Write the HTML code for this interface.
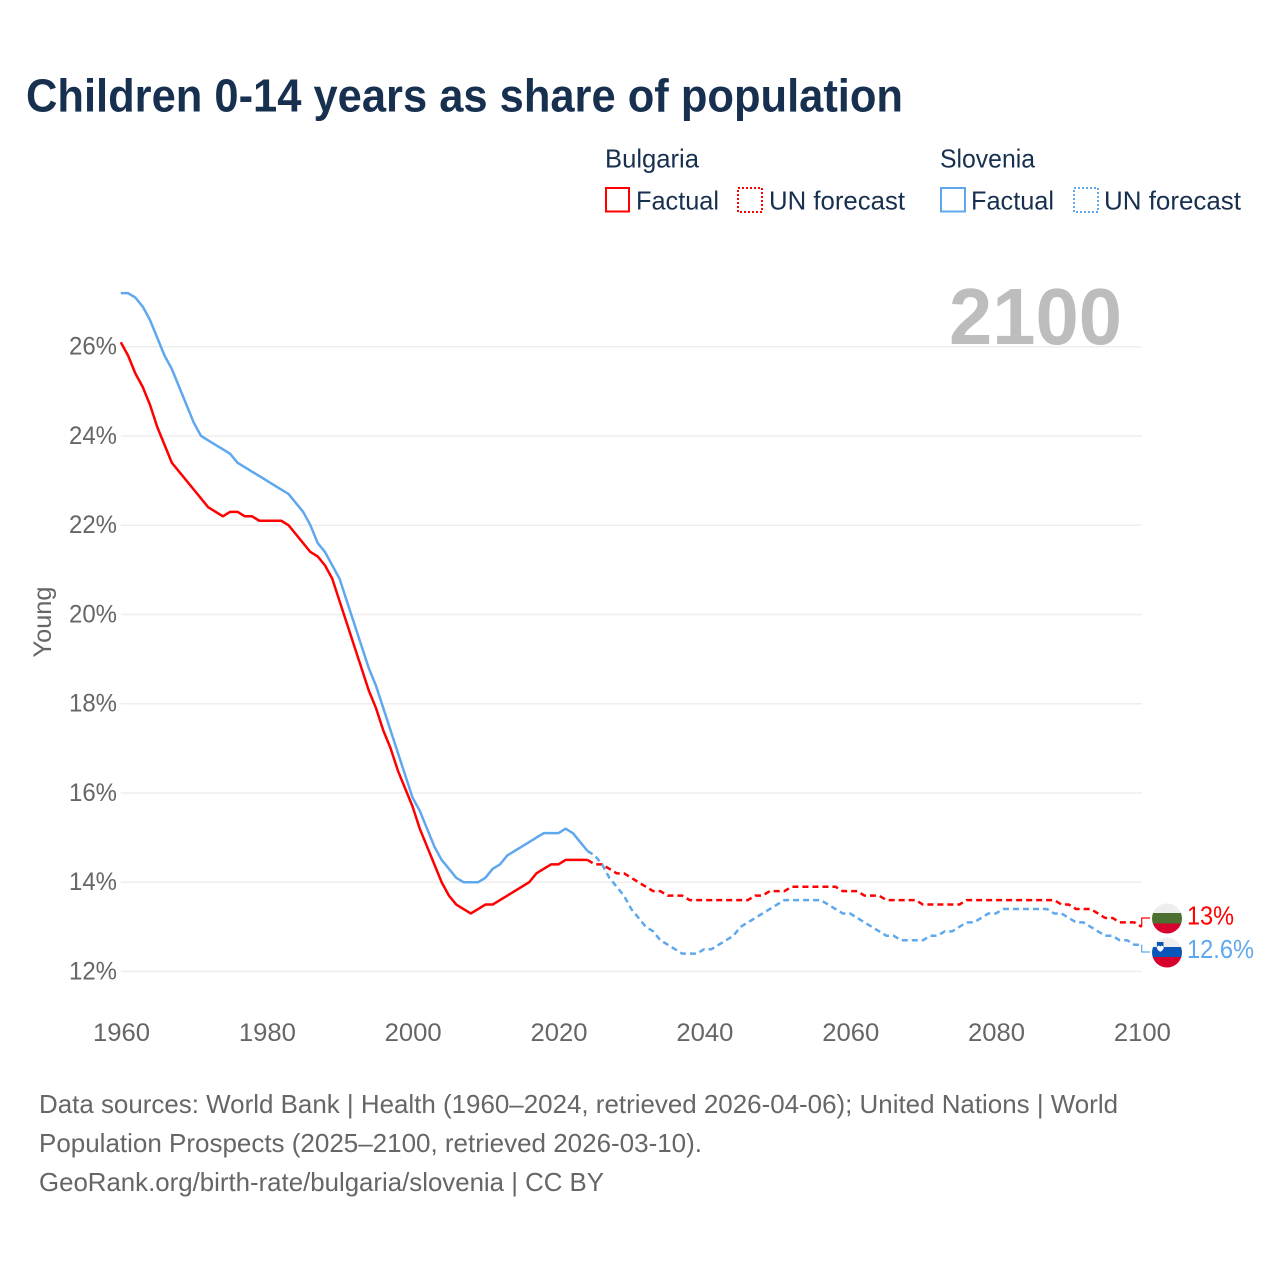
<!DOCTYPE html>
<html lang="en">
<head>
<meta charset="utf-8">
<title>Children 0-14 years as share of population</title>
<style>
html,body{margin:0;padding:0;background:#fff;}
svg{display:block;font-family:"Liberation Sans",sans-serif;}
</style>
</head>
<body>
<svg id="chart" xmlns="http://www.w3.org/2000/svg" width="1280" height="1280" viewBox="0 0 1280 1280">
  <rect width="1280" height="1280" fill="#fff"/>
  <text x="26" y="111.500" font-size="46" font-weight="700" fill="#18304f" textLength="877" lengthAdjust="spacingAndGlyphs">Children 0-14 years as share of population</text>

  <g font-size="26" fill="#18304f">
    <text x="605" y="167.500" textLength="94" lengthAdjust="spacingAndGlyphs">Bulgaria</text>
    <g>
      <rect x="606" y="188" width="23" height="23.500" fill="none" stroke="#ff0000" stroke-width="2"/>
      <text x="636" y="209.500" textLength="83" lengthAdjust="spacingAndGlyphs">Factual</text>
    </g>
    <g>
      <rect x="738" y="188" width="24" height="24" fill="none" stroke="#ff0000" stroke-width="2" stroke-dasharray="2,2"/>
      <text x="769" y="209.500" textLength="136" lengthAdjust="spacingAndGlyphs">UN forecast</text>
    </g>
    <text x="940" y="167.500" textLength="95" lengthAdjust="spacingAndGlyphs">Slovenia</text>
    <g>
      <rect x="941" y="188" width="24" height="23.500" fill="none" stroke="#5fa8ee" stroke-width="2"/>
      <text x="971" y="209.500" textLength="83" lengthAdjust="spacingAndGlyphs">Factual</text>
    </g>
    <g>
      <rect x="1074" y="188" width="24" height="24" fill="none" stroke="#5fa8ee" stroke-width="2" stroke-dasharray="2,2"/>
      <text x="1104" y="209.500" textLength="137" lengthAdjust="spacingAndGlyphs">UN forecast</text>
    </g>
  </g>

  <g id="grid"></g>
  <text x="949" y="344" font-size="80" font-weight="700" fill="#bdbdbd" textLength="173" lengthAdjust="spacingAndGlyphs">2100</text>
  <g id="yticks" font-size="25" fill="#666"></g>
  <g id="xticks" font-size="25" fill="#666"></g>
  <text transform="translate(51 622) rotate(-90)" text-anchor="middle" font-size="25" fill="#666" textLength="71" lengthAdjust="spacingAndGlyphs">Young</text>
  <g id="series" fill="none"></g>

  <defs>
    <clipPath id="clip-bg"><circle cx="1167" cy="918.500" r="15"/></clipPath>
    <clipPath id="clip-si"><circle cx="1167" cy="952.500" r="15"/></clipPath>
  </defs>
  <g clip-path="url(#clip-bg)">
    <rect x="1152" y="903" width="30" height="10" fill="#eeeeee"/>
    <rect x="1152" y="913" width="30" height="10.500" fill="#4b7030"/>
    <rect x="1152" y="923.500" width="30" height="11" fill="#d8002c"/>
  </g>
  <g clip-path="url(#clip-si)">
    <rect x="1152" y="937" width="30" height="10" fill="#eeeeee"/>
    <rect x="1152" y="947" width="30" height="10" fill="#0a55b8"/>
    <rect x="1152" y="957" width="30" height="11" fill="#d8002c"/>
    <path d="M1157 942h6.500v5q0 3-3.250 4.800q-3.250-1.800-3.250-4.800z" fill="#0a55b8"/>
    <path d="M1156.800 947l2-1.500l1.500 1l1.500-1l2 1.500q0 3-3.500 4.800q-3.500-1.800-3.500-4.800z" fill="#ffffff"/>
  </g>
  <text id="label-bg" x="1187" y="924.500" font-size="26" fill="#ff0000" textLength="47" lengthAdjust="spacingAndGlyphs"></text>
  <text id="label-si" x="1187" y="958" font-size="26" fill="#5fa8ee" textLength="67" lengthAdjust="spacingAndGlyphs"></text>

  <g font-size="26" fill="#666">
    <text x="39" y="1113" textLength="1079" lengthAdjust="spacingAndGlyphs">Data sources: World Bank | Health (1960–2024, retrieved 2026-04-06); United Nations | World</text>
    <text x="39" y="1152" textLength="663" lengthAdjust="spacingAndGlyphs">Population Prospects (2025–2100, retrieved 2026-03-10).</text>
    <text x="39" y="1191" textLength="565" lengthAdjust="spacingAndGlyphs">GeoRank.org/birth-rate/bulgaria/slovenia | CC BY</text>
  </g>
</svg>
<script>
const yTickValues = [12, 14, 16, 18, 20, 22, 24, 26];
const xTickYears = [1960, 1980, 2000, 2020, 2040, 2060, 2080, 2100];
const factualStartYear = 1960;
const forecastStartYear = 2025;
const bulgariaFactual = [
  26.1,25.8,25.4,25.1,24.7,24.2,23.8,23.4,23.2,23.0,
  22.8,22.6,22.4,22.3,22.2,22.3,22.3,22.2,22.2,22.1,
  22.1,22.1,22.1,22.0,21.8,21.6,21.4,21.3,21.1,20.8,
  20.3,19.8,19.3,18.8,18.3,17.9,17.4,17.0,16.5,16.1,
  15.7,15.2,14.8,14.4,14.0,13.7,13.5,13.4,13.3,13.4,
  13.5,13.5,13.6,13.7,13.8,13.9,14.0,14.2,14.3,14.4,
  14.4,14.5,14.5,14.5,14.5
];
const sloveniaFactual = [
  27.2,27.2,27.1,26.9,26.6,26.2,25.8,25.5,25.1,24.7,
  24.3,24.0,23.9,23.8,23.7,23.6,23.4,23.3,23.2,23.1,
  23.0,22.9,22.8,22.7,22.5,22.3,22.0,21.6,21.4,21.1,
  20.8,20.3,19.8,19.3,18.8,18.4,17.9,17.4,16.9,16.4,
  15.9,15.6,15.2,14.8,14.5,14.3,14.1,14.0,14.0,14.0,
  14.1,14.3,14.4,14.6,14.7,14.8,14.9,15.0,15.1,15.1,
  15.1,15.2,15.1,14.9,14.7
];
const bulgariaForecast = [
  14.4,14.4,14.3,14.2,14.2, 14.1,14.0,13.9,13.8,13.8,
  13.7,13.7,13.7,13.6,13.6, 13.6,13.6,13.6,13.6,13.6,
  13.6,13.6,13.7,13.7,13.8, 13.8,13.8,13.9,13.9,13.9,
  13.9,13.9,13.9,13.9,13.8, 13.8,13.8,13.7,13.7,13.7,
  13.6,13.6,13.6,13.6,13.6, 13.5,13.5,13.5,13.5,13.5,
  13.5,13.6,13.6,13.6,13.6, 13.6,13.6,13.6,13.6,13.6,
  13.6,13.6,13.6,13.6,13.5, 13.5,13.4,13.4,13.4,13.3,
  13.2,13.2,13.1,13.1,13.1, 13.0
];
const sloveniaForecast = [
  14.6,14.4,14.1,13.9,13.7, 13.4,13.2,13.0,12.9,12.7,
  12.6,12.5,12.4,12.4,12.4, 12.5,12.5,12.6,12.7,12.8,
  13.0,13.1,13.2,13.3,13.4, 13.5,13.6,13.6,13.6,13.6,
  13.6,13.6,13.5,13.4,13.3, 13.3,13.2,13.1,13.0,12.9,
  12.8,12.8,12.7,12.7,12.7, 12.7,12.8,12.8,12.9,12.9,
  13.0,13.1,13.1,13.2,13.3, 13.3,13.4,13.4,13.4,13.4,
  13.4,13.4,13.4,13.3,13.3, 13.2,13.1,13.1,13.0,12.9,
  12.8,12.8,12.7,12.7,12.6, 12.6
];

const NS = 'http://www.w3.org/2000/svg';
function xPos(year){ return 120.8 + (year - 1960) * (1141.7 - 120.8) / 140; }
function yPos(v){ return 971.5 - (v - 12) * (971.5 - 346.7) / 14; }
function pathFrom(values, startYear, lead){
  const pts = [];
  if (lead) pts.push([xPos(lead[0]), yPos(lead[1])]);
  values.forEach(function(v, i){ pts.push([xPos(startYear + i), yPos(v)]); });
  return 'M' + pts.map(function(p){ return p[0].toFixed(2) + ' ' + p[1].toFixed(2); }).join('L');
}

const gridG = document.getElementById('grid');
const yG = document.getElementById('yticks');
yTickValues.forEach(function(v){
  const line = document.createElementNS(NS, 'line');
  
  
  line.setAttribute('x1', xPos(1960));
  line.setAttribute('x2', xPos(2100));
  line.setAttribute('y1', yPos(v));
  line.setAttribute('y2', yPos(v));
  line.setAttribute('stroke', '#eeeeee');
  line.setAttribute('stroke-width', '1.5');
  gridG.appendChild(line);
  const t = document.createElementNS(NS, 'text');
  
  
  t.setAttribute('x', '117');
  t.setAttribute('y', yPos(v) + 8);
  t.setAttribute('text-anchor', 'end');
  t.setAttribute('textLength', '48');
  t.setAttribute('lengthAdjust', 'spacingAndGlyphs');
  t.textContent = v + '%';
  yG.appendChild(t);
});

const xG = document.getElementById('xticks');
xTickYears.forEach(function(yr){
  const t = document.createElementNS(NS, 'text');
  
  
  t.setAttribute('x', xPos(yr) + 0.7);
  t.setAttribute('y', '1041');
  t.setAttribute('text-anchor', 'middle');
  t.setAttribute('textLength', '57');
  t.setAttribute('lengthAdjust', 'spacingAndGlyphs');
  t.textContent = yr;
  xG.appendChild(t);
});

const sG = document.getElementById('series');
function addLine(d, color, dashed, width){
  const p = document.createElementNS(NS, 'path');
  p.setAttribute('d', d);
  p.setAttribute('stroke', color);
  p.setAttribute('stroke-width', width);
  p.setAttribute('stroke-linejoin', 'round');
  if (dashed) p.setAttribute('stroke-dasharray', dashed);
  sG.appendChild(p);
  return p;
}
const RED = '#ff0000';
const BLUE = '#5fa8ee';
const lastFactualYear = factualStartYear + bulgariaFactual.length - 1;

const bgForecastLine = addLine(pathFrom(bulgariaForecast, forecastStartYear, [lastFactualYear, bulgariaFactual[bulgariaFactual.length - 1]]), RED, '6,4', 2.5);


const bgFactualLine = addLine(pathFrom(bulgariaFactual, factualStartYear), RED, null, 2.5);


const siForecastLine = addLine(pathFrom(sloveniaForecast, forecastStartYear, [lastFactualYear, sloveniaFactual[sloveniaFactual.length - 1]]), BLUE, '6,4', 2.5);


const siFactualLine = addLine(pathFrom(sloveniaFactual, factualStartYear), BLUE, null, 2.5);



const bgLast = bulgariaForecast[bulgariaForecast.length - 1];
const siLast = sloveniaForecast[sloveniaForecast.length - 1];
const bgConn = addLine('M' + xPos(2100) + ' ' + yPos(bgLast) + 'V918H1150', RED, null, 1.2);


const siConn = addLine('M' + xPos(2100) + ' ' + yPos(siLast) + 'V952H1150', BLUE, null, 1.2);



document.getElementById('label-bg').textContent = bgLast + '%';
document.getElementById('label-si').textContent = siLast + '%';
</script>
</body>
</html>
